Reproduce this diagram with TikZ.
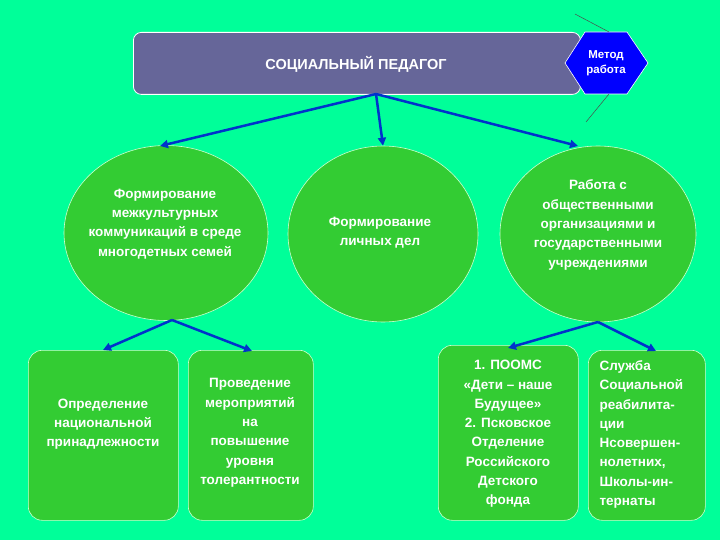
\documentclass[tikz,border=0pt]{standalone}
\usepackage{fontspec}
\setmainfont{Liberation Sans}
\usetikzlibrary{shapes.geometric,arrows.meta}
\begin{document}
\begin{tikzpicture}[x=1pt,y=-1pt,
  ell/.style={ellipse,draw=white!80!green,line width=0.6pt,fill=myg,inner sep=0pt,align=center,text=white,font=\bfseries\fontsize{13.5}{19}\selectfont},
  bx/.style={rectangle,rounded corners=14pt,draw=white!80!green,line width=0.6pt,fill=myg,anchor=north west},
  bt/.style={text=white,font=\bfseries\fontsize{13.5}{19.3}\selectfont,align=center},
  arr/.style={-{Triangle[length=8pt,width=8pt]},draw=arrb,line width=2.5pt}]
\definecolor{bg}{RGB}{0,255,153}
\definecolor{myg}{RGB}{51,204,51}
\definecolor{arrb}{RGB}{0,51,204}
\definecolor{tb}{RGB}{102,102,153}
\fill[bg] (0,0) rectangle (720,540);
\useasboundingbox (0,0) rectangle (720,540);
\node[draw=white,line width=0.8pt,fill=tb,rounded corners=8pt,minimum width=447pt,minimum height=62pt,anchor=north west,inner sep=0pt] (top) at (133,32) {};
\node[text=white,font=\bfseries\fontsize{14.5}{16}\selectfont] (tt) at (356,64) {СОЦИАЛЬНЫЙ ПЕДАГОГ};
\fill[blue,draw=white,line width=0.6pt] (565,63) -- (585,32) -- (627,32) -- (648,63) -- (627,94) -- (585,94) -- cycle;
\node[text=white,font=\bfseries\fontsize{11.5}{15}\selectfont,align=center] (hex) at (606,63) {Метод\\работа};
\coordinate (l1) at (575,14);
\coordinate (l2) at (586,122);
\coordinate (h1) at (609,32);
\coordinate (h2) at (609,94);
\draw[black!70,line width=0.5pt] (l1) -- (h1);
\draw[black!70,line width=0.5pt] (h2) -- (l2);
\node[ell,minimum width=204pt,minimum height=175pt] (e1) at (166,233) {};
\node[ell,minimum width=190pt,minimum height=176pt] (e2) at (383,234) {};
\node[ell,minimum width=196pt,minimum height=176pt] (e3) at (598,234) {};
\node[bt] (et1) at (165,224) {Формирование\\межкультурных\\коммуникаций в среде\\многодетных семей};
\node[bt] (et2) at (380,233) {Формирование\\личных дел};
\node[bt] (et3) at (598,225) {Работа с\\общественными\\организациями и\\государственными\\учреждениями};
\node[bx,minimum width=150pt,minimum height=170pt] (b1) at (28,350) {};
\node[bt] (t1) at (103,424) {Определение\\национальной\\принадлежности};
\node[bx,minimum width=125pt,minimum height=170pt] (b2) at (188,350) {};
\node[bt] (t2) at (250,433) {Проведение\\мероприятий\\на\\повышение\\уровня\\толерантности};
\node[bx,minimum width=140pt,minimum height=175pt] (b3) at (438,345) {};
\node[bt] (t3) at (508,434) {1. ПООМС\\«Дети – наше\\Будущее»\\2. Псковское\\Отделение\\Российского\\Детского\\фонда};
\node[bx,minimum width=117pt,minimum height=170pt] (b4) at (588,350) {};
\node[bt,align=left,anchor=north west] (t4) at (596,357) {Служба\\Социальной\\реабилита-\\ции\\Нсовершен-\\нолетних,\\Школы-ин-\\тернаты};
\coordinate (ts) at (376,94);
\draw[arr] (ts) -- (160,146);
\draw[arr] (ts) -- (e2.north);
\draw[arr] (ts) -- (578,146);
\coordinate (s1) at (172,320);
\draw[arr] (s1) -- (103,350);
\draw[arr] (s1) -- (252,351);
\coordinate (s3) at (598,322);
\draw[arr] (s3) -- (508,348);
\draw[arr] (s3) -- (656,351);
\end{tikzpicture}
\end{document}
